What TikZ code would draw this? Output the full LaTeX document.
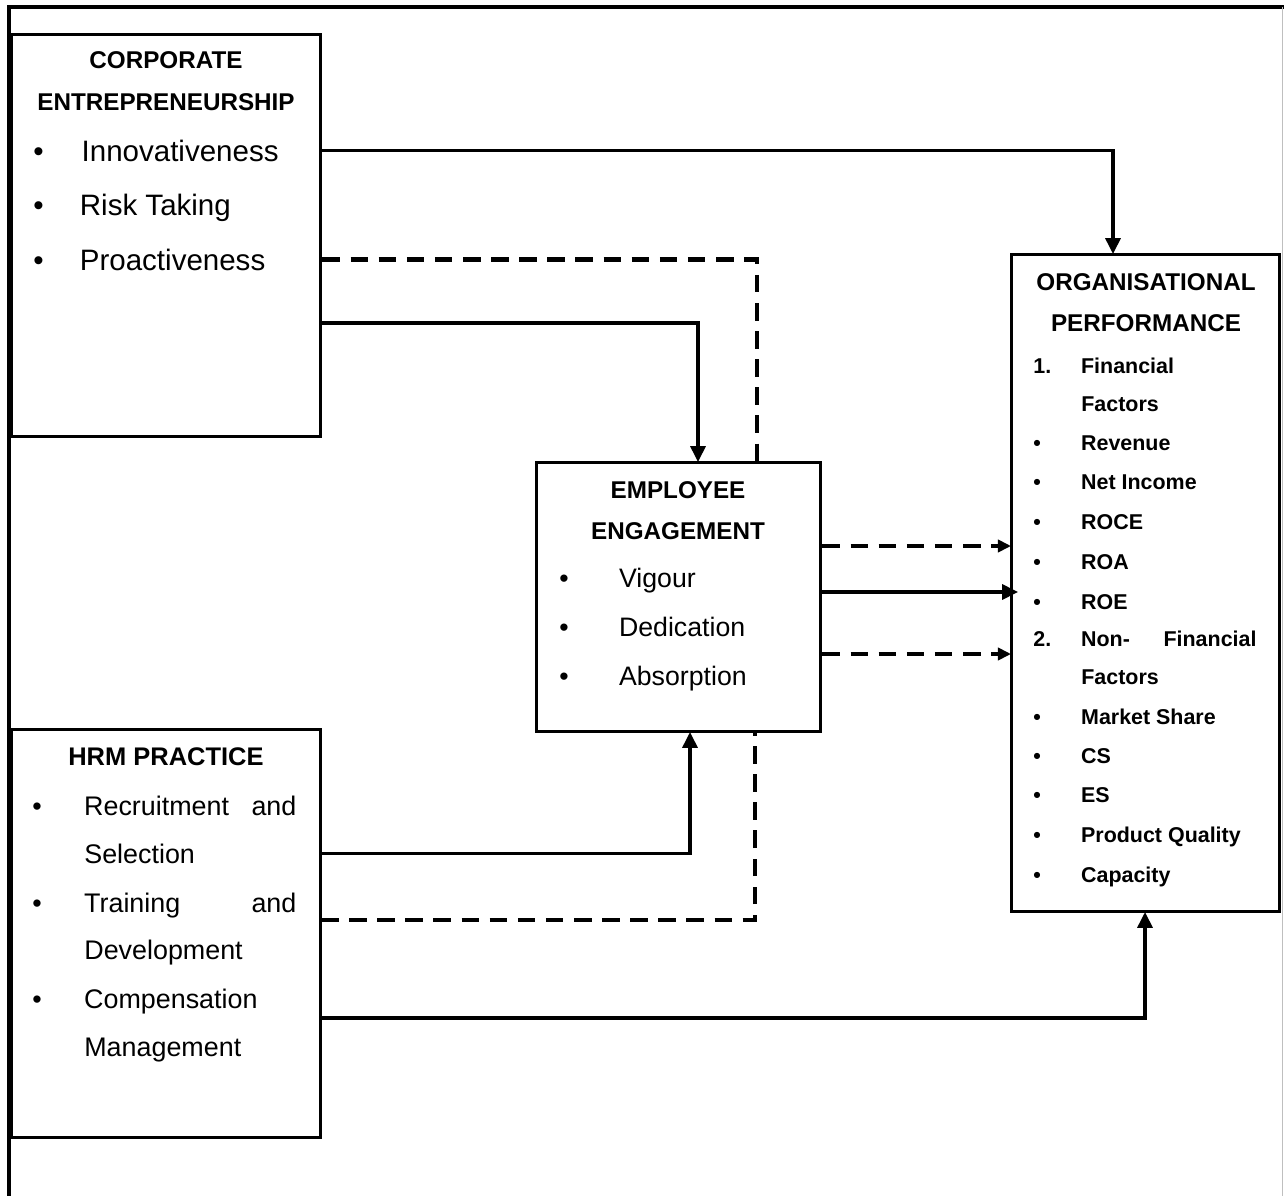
\documentclass[tikz,border=0pt]{standalone}
\usepackage{fontspec}
\setmainfont{Liberation Sans}
\usetikzlibrary{arrows.meta,positioning}
\tikzset{
  panel/.style={draw, line width=1.7pt, inner sep=0pt},
  heading/.style={font=\fontsize{13.8}{16}\selectfont\bfseries, anchor=mid, inner sep=0pt, yshift=-2.4pt},
  ceitem/.style={font=\fontsize{16.8}{20}\selectfont, anchor=mid west, inner sep=0pt, yshift=-2.6pt},
  eeitem/.style={font=\fontsize{15.2}{18}\selectfont, anchor=mid west, inner sep=0pt, yshift=-2.6pt},
  hritem/.style={font=\fontsize{15.3}{18}\selectfont, anchor=mid west, inner sep=0pt, yshift=-2.6pt},
  opitem/.style={font=\fontsize{12.2}{15}\selectfont\bfseries, anchor=mid west, inner sep=0pt, yshift=-2pt},
  arrow/.style={-{Triangle[length=9pt,width=8.5pt]}, line width=1.9pt},
  dashedlink/.style={line width=2.7pt, dash pattern=on 10pt off 6pt},
  dashedarrow/.style={dashedlink, -{Triangle[length=7.5pt,width=7pt]}}
}
\newcommand{\itemlead}[2]{\makebox[#1][l]{#2}}

\begin{document}
\begin{tikzpicture}[x=0.02cm, y=-0.02cm]
  \useasboundingbox (0,0) rectangle (1284,1196);
  % page frame
  \draw[line width=2.3pt] (9,1196) -- (9,7) -- (1284,7);
  \draw[black!25, line width=0.6pt] (1282.5,7) -- (1282.5,1196);

  % boxes
  \node[panel, minimum width=6.2cm, minimum height=8.06cm] (ce) at (166,235.5) {};
  \node[panel, minimum width=5.7cm, minimum height=5.4cm] (ee) at (678.5,597) {};
  \node[panel, minimum width=5.38cm, minimum height=13.16cm] (op) at (1145.5,583) {};
  \node[panel, minimum width=6.2cm, minimum height=8.18cm] (hrm) at (166,933.5) {};

  % corporate entrepreneurship
  \node[heading] (ceh1) at (166,60) {CORPORATE};
  \node[heading] (ceh2) at (166,102) {ENTREPRENEURSHIP};
  \node[ceitem] (innov) at (33,152) {\itemlead{27.5pt}{\textbullet}Innovativeness};
  \node[ceitem] (risk) at (33,206) {\itemlead{26.5pt}{\textbullet}Risk Taking};
  \node[ceitem] (proact) at (33,261) {\itemlead{26.5pt}{\textbullet}Proactiveness};

  % employee engagement
  \node[heading] (eeh1) at (678,490) {EMPLOYEE};
  \node[heading] (eeh2) at (678,531) {ENGAGEMENT};
  \node[eeitem] (vigour) at (559,578) {\itemlead{34pt}{\textbullet}Vigour};
  \node[eeitem] (dedic) at (559,627) {\itemlead{34pt}{\textbullet}Dedication};
  \node[eeitem] (absorp) at (559,676) {\itemlead{34pt}{\textbullet}Absorption};

  % organisational performance
  \node[heading] (oph1) at (1146,282) {ORGANISATIONAL};
  \node[heading] (oph2) at (1146,323) {PERFORMANCE};
  \node[opitem] (fin) at (1033,365) {\itemlead{27.2pt}{1.}Financial};
  \node[opitem] (finfac) at (1081,403) {Factors};
  \node[opitem] (revenue) at (1033,442) {\itemlead{27.2pt}{\textbullet}Revenue};
  \node[opitem] (netinc) at (1033,481) {\itemlead{27.2pt}{\textbullet}Net Income};
  \node[opitem] (roce) at (1033,521) {\itemlead{27.2pt}{\textbullet}ROCE};
  \node[opitem] (roa) at (1033,561) {\itemlead{27.2pt}{\textbullet}ROA};
  \node[opitem] (roe) at (1033,601) {\itemlead{27.2pt}{\textbullet}ROE};
  \node[opitem] (nonfin) at (1033,638) {\itemlead{27.2pt}{2.}\hbox to 99.8pt{Non-\hfill Financial}};
  \node[opitem] (nonfac) at (1081,676) {Factors};
  \node[opitem] (market) at (1033,716) {\itemlead{27.2pt}{\textbullet}Market Share};
  \node[opitem] (cs) at (1033,755) {\itemlead{27.2pt}{\textbullet}CS};
  \node[opitem] (es) at (1033,794) {\itemlead{27.2pt}{\textbullet}ES};
  \node[opitem] (quality) at (1033,834) {\itemlead{27.2pt}{\textbullet}Product Quality};
  \node[opitem] (capacity) at (1033,874) {\itemlead{27.2pt}{\textbullet}Capacity};

  % hrm practice
  \node[heading, font=\fontsize{14.5}{17}\selectfont\bfseries] (hrmh) at (166,757) {HRM PRACTICE};
  \node[hritem] (recruit) at (32,806) {\itemlead{29.5pt}{\textbullet}\hbox to 120.8pt{Recruitment\hfill and}};
  \node[hritem] (selection) at (84,854) {Selection};
  \node[hritem] (training) at (32,903) {\itemlead{29.5pt}{\textbullet}\hbox to 120.8pt{Training\hfill and}};
  \node[hritem] (develop) at (84,950) {Development};
  \node[hritem] (compens) at (32,999) {\itemlead{29.5pt}{\textbullet}Compensation};
  \node[hritem] (manage) at (84,1047) {Management};

  % connector ends
  \coordinate (ceOut) at (321,323);
  \coordinate (opTop) at (1113,254);
  \coordinate (eeTopA) at (698,462);
  \coordinate (eeTopB) at (757,462);
  \coordinate (opInA) at (1011,546);
  \coordinate (opInB) at (1018,592);
  \coordinate (opInC) at (1011,654);
  \coordinate (hrmOutB) at (321,920);
  \coordinate (hrmOutC) at (321,1018);
  \coordinate (eeBotA) at (690,732);
  \coordinate (eeBotB) at (755,732);
  \coordinate (opBot) at (1145,912);

  \draw[arrow] (ce.east |- innov) -| (opTop);
  \draw[dashedlink] (ce.east |- proact) -| (eeTopB);
  \draw[arrow] (ceOut) -| (eeTopA);

  \draw[dashedarrow] (ee.east |- opInA) -- (opInA);
  \draw[arrow] (ee.east |- opInB) -- (opInB);
  \draw[dashedarrow] (ee.east |- opInC) -- (opInC);

  \draw[arrow] (hrm.east |- selection) -| (eeBotA);
  \draw[dashedlink] (hrmOutB) -| (eeBotB);
  \draw[arrow] (hrmOutC) -| (opBot);
\end{tikzpicture}
\end{document}
